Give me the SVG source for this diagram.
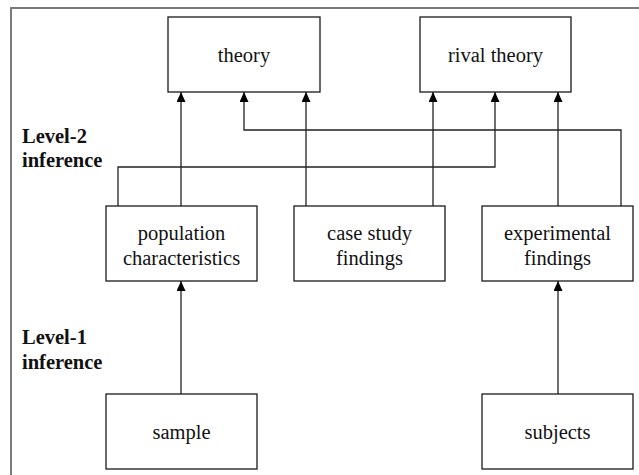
<svg xmlns="http://www.w3.org/2000/svg" width="639" height="475" viewBox="0 0 639 475">
<style>
.box{fill:#fff;stroke:#1a1a1a;stroke-width:1.3}
.t{font-family:'Liberation Serif','Tinos','Times New Roman','DejaVu Serif',serif;font-size:20.5px;fill:#111;text-anchor:middle}
.lab{font-family:'Liberation Serif','Tinos','Times New Roman','DejaVu Serif',serif;font-size:20.5px;font-weight:bold;fill:#111}
.c{fill:none;stroke:#222;stroke-width:1.3}
</style>
<defs>
<marker id="ah" viewBox="0 0 10 9" refX="10" refY="4.5" markerWidth="10" markerHeight="9" markerUnits="userSpaceOnUse" orient="auto">
<path d="M0,0 L10,4.5 L0,9 z" fill="#000"/>
</marker>
</defs>
<rect width="639" height="475" fill="#fff"/>
<rect x="11" y="8" width="650" height="490" fill="none" stroke="#7a7a7a" stroke-width="2"/>
<text class="lab" x="22" y="143">Level-2</text>
<text class="lab" x="22" y="167">inference</text>
<text class="lab" x="22" y="344">Level-1</text>
<text class="lab" x="22" y="369">inference</text>
<g id="connectors">
<path class="c" d="M181,206 V92" marker-end="url(#ah)"/>
<path class="c" d="M118,206 V167 H495 V92" marker-end="url(#ah)"/>
<path class="c" d="M306,206 V92" marker-end="url(#ah)"/>
<path class="c" d="M433,206 V92" marker-end="url(#ah)"/>
<path class="c" d="M558,206 V92" marker-end="url(#ah)"/>
<path class="c" d="M621,206 V130 H244 V92" marker-end="url(#ah)"/>
<path class="c" d="M181,394 V281" marker-end="url(#ah)"/>
<path class="c" d="M558,394 V281" marker-end="url(#ah)"/>
</g>
<g id="theory">
<rect class="box" x="168" y="17" width="152" height="75"/>
<text class="t" x="244" y="62">theory</text>
</g>
<g id="rival-theory">
<rect class="box" x="420" y="17" width="151" height="75"/>
<text class="t" x="495.5" y="62">rival theory</text>
</g>
<g id="population">
<rect class="box" x="106" y="206" width="151" height="75"/>
<text class="t" x="181.5" y="240">population</text>
<text class="t" x="181.5" y="265">characteristics</text>
</g>
<g id="case-study">
<rect class="box" x="294" y="206" width="151" height="75"/>
<text class="t" x="369.5" y="240">case study</text>
<text class="t" x="369.5" y="265">findings</text>
</g>
<g id="experimental">
<rect class="box" x="482" y="206" width="151" height="75"/>
<text class="t" x="557.5" y="240">experimental</text>
<text class="t" x="557.5" y="265">findings</text>
</g>
<g id="sample">
<rect class="box" x="106" y="394" width="151" height="75"/>
<text class="t" x="181.5" y="439">sample</text>
</g>
<g id="subjects">
<rect class="box" x="482" y="394" width="151" height="75"/>
<text class="t" x="557.5" y="439">subjects</text>
</g>
</svg>
